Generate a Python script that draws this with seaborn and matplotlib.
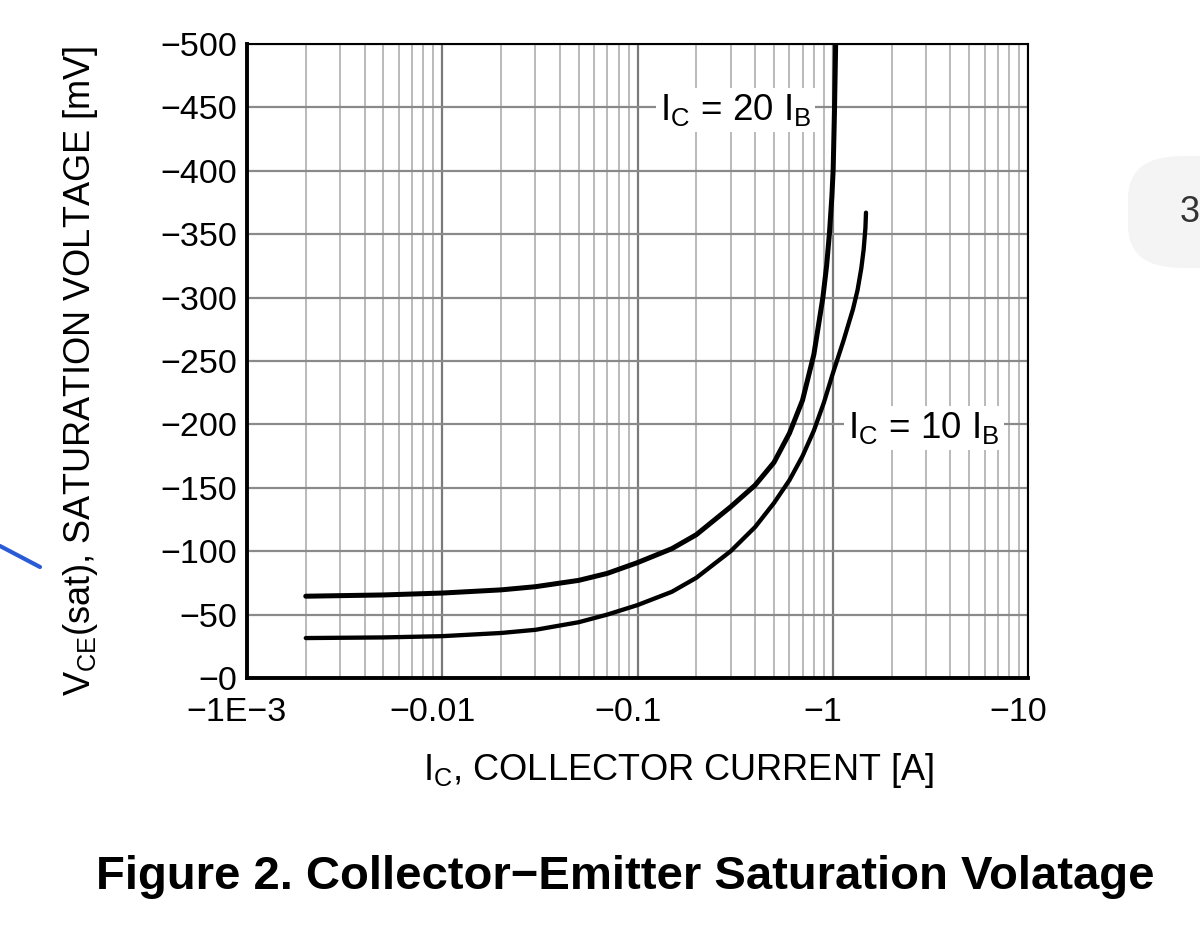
import numpy as np
import pandas as pd
import matplotlib
matplotlib.use('Agg')
import matplotlib.pyplot as plt
import matplotlib.transforms as mtransforms
from matplotlib.ticker import LogLocator, NullFormatter
from matplotlib.patches import FancyBboxPatch
import seaborn as sns

# ------------------------------------------
# Data (Ic in A, Vce(sat) in mV, magnitudes)
# ------------------------------------------
ic_20 = [0.002, 0.005, 0.01, 0.02, 0.03, 0.05, 0.07, 0.1, 0.15, 0.2, 0.3,
         0.4, 0.5, 0.6, 0.7, 0.8, 0.843, 0.89, 0.93, 0.962, 0.99, 1.005,
         1.02, 1.035]
vce_20 = [64.5, 65.5, 67, 69.5, 72, 77, 82.5, 91, 102, 113, 135,
          152, 170, 193, 219, 255, 277, 300, 325, 351, 380, 401,
          445, 500]

ic_10 = [0.002, 0.005, 0.01, 0.02, 0.03, 0.05, 0.07, 0.1, 0.15, 0.2, 0.3,
         0.4, 0.5, 0.6, 0.7, 0.8, 0.9, 1.0, 1.135, 1.27, 1.34, 1.40,
         1.44, 1.47, 1.48]
vce_10 = [31.5, 32, 33, 35.5, 38, 44, 50, 57.5, 68, 79, 100,
          119, 138, 156, 175, 195, 217, 240, 266, 291, 306, 323,
          338, 355, 367]

x_ticks = [1e-3, 1e-2, 1e-1, 1, 10]
x_labels = ['\u22121E\u22123', '\u22120.01', '\u22120.1', '\u22121', '\u221210']
y_ticks = list(range(0, 501, 50))
y_labels = ['\u2212' + str(v) for v in y_ticks]

curve_names = ['$\\mathregular{I_C}$ = 20 $\\mathregular{I_B}$',
               '$\\mathregular{I_C}$ = 10 $\\mathregular{I_B}$']
label_pos = [(0.317, 448), (2.94, 197)]

df = pd.concat([
    pd.DataFrame({'ic': ic_20, 'vce': vce_20, 'curve': '20'}),
    pd.DataFrame({'ic': ic_10, 'vce': vce_10, 'curve': '10'}),
])

sns.set_style('white')
plt.rcParams['font.family'] = ['Liberation Sans', 'DejaVu Sans']
plt.rcParams['mathtext.fontset'] = 'custom'
plt.rcParams['mathtext.rm'] = 'Liberation Sans'
plt.rcParams['mathtext.it'] = 'Liberation Sans'
plt.rcParams['text.color'] = 'black'
plt.rcParams['axes.labelcolor'] = 'black'

fig = plt.figure(figsize=(12, 9.41), dpi=100)
ax = fig.add_axes([247 / 1200, 1 - 678 / 941, 781 / 1200, 634 / 941])

sns.lineplot(data=df[df['curve'] == '20'], x='ic', y='vce', ax=ax,
             color='black', lw=3.6, sort=False, estimator=None)
sns.lineplot(data=df[df['curve'] == '10'], x='ic', y='vce', ax=ax,
             color='black', lw=3.1, sort=False, estimator=None)

ax.set_xscale('log')
ax.set_xlim(1e-3, 10)
ax.set_ylim(0, 500)
ax.set_xticks(x_ticks)
ax.set_xticklabels(x_labels)
ax.xaxis.set_minor_locator(LogLocator(base=10, subs=np.arange(2, 10)))
ax.xaxis.set_minor_formatter(NullFormatter())
ax.set_yticks(y_ticks)
ax.set_yticklabels(y_labels)

ax.grid(which='major', axis='x', color='#7a7a7a', lw=1.6)
ax.grid(which='minor', axis='x', color='#b4b4b4', lw=1.3)
ax.grid(which='major', axis='y', color='#8a8a8a', lw=1.6)
ax.set_axisbelow(True)

ax.tick_params(axis='both', which='both', length=0, labelsize=24.5, colors='black')
ax.tick_params(axis='y', pad=7)
ax.tick_params(axis='x', pad=14)
offset = mtransforms.ScaledTranslation(-10 / 100, 0, fig.dpi_scale_trans)
for lab in ax.get_xticklabels():
    lab.set_transform(lab.get_transform() + offset)

for side in ['left', 'bottom']:
    ax.spines[side].set_linewidth(2.8)
    ax.spines[side].set_color('black')
for side in ['top', 'right']:
    ax.spines[side].set_linewidth(1.5)
    ax.spines[side].set_color('black')

for name, (px, py) in zip(curve_names, label_pos):
    ax.text(px, py, name, fontsize=26.5, ha='center', va='center',
            bbox=dict(facecolor='white', edgecolor='none', pad=3))

ax.set_xlabel('$\\mathregular{I_C}$, COLLECTOR CURRENT [A]', fontsize=26)
ax.xaxis.set_label_coords((678 - 247) / 781, -0.115)
ax.xaxis.label.set_va('top')
ax.set_ylabel('$\\mathregular{V_{CE}}$(sat), SATURATION VOLTAGE [mV]', fontsize=26)
ax.yaxis.set_label_coords((100 - 247) / 781, 0.485)

fig.text(625 / 1200, 1 - 877 / 941,
         'Figure 2. Collector\u2212Emitter Saturation Volatage',
         fontsize=34, fontweight='bold', ha='center', va='center')

# page badge and pen stroke from the screenshot
badge = FancyBboxPatch((1128 / 1200, 1 - 268 / 941), 0.2, 112 / 941,
                       boxstyle='round,pad=0,rounding_size=0.045',
                       transform=fig.transFigure, facecolor='#f4f4f4',
                       edgecolor='none', zorder=0)
fig.patches.append(badge)
fig.text(1180 / 1200, 1 - 212 / 941, '3', fontsize=26, color='#333333',
         ha='left', va='center')
fig.lines.append(plt.Line2D([0, 40 / 1200], [1 - 546 / 941, 1 - 567 / 941],
                            transform=fig.transFigure, color='#2a5bd7',
                            lw=3, solid_capstyle='round'))

fig.savefig('out.png', dpi=100, facecolor='white')
